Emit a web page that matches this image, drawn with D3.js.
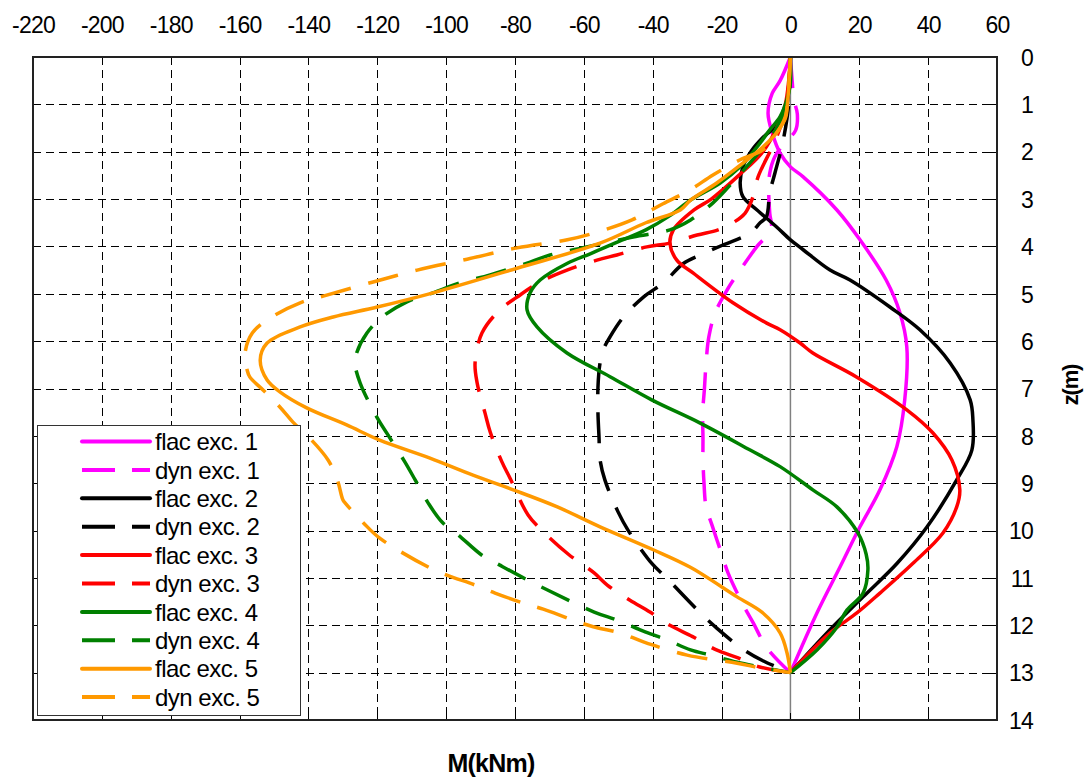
<!DOCTYPE html>
<html>
<head>
<meta charset="utf-8">
<script src="https://cdn.jsdelivr.net/npm/d3@7"></script>
<style>
  html, body { margin: 0; padding: 0; background: #fff; }
  svg { display: block; font-family: "Liberation Sans", Arial, sans-serif; }
</style>
</head>
<body>
<svg id="chart" width="1090" height="780"></svg>
<script>
// Axis ticks
const momentTicks = [-220, -200, -180, -160, -140, -120, -100, -80, -60, -40, -20, 0, 20, 40, 60];
const depthTicks = [0, 1, 2, 3, 4, 5, 6, 7, 8, 9, 10, 11, 12, 13, 14];

// Series names (legend order)
const seriesNames = ["flac exc. 1", "dyn exc. 1", "flac exc. 2", "dyn exc. 2", "flac exc. 3",
                     "dyn exc. 3", "flac exc. 4", "dyn exc. 4", "flac exc. 5", "dyn exc. 5"];

// Bending moment profiles: depth z (m) and moment M (kNm)
const flac1Z = [0, 0.5, 0.77, 1.19, 1.6, 2.03, 2.32, 2.53, 3.23, 3.86, 4.71, 5.4, 6.12, 7.24, 8.23, 9.14, 9.92, 10.77, 11.74, 13];
const flac1M = [0, -3, -5.3, -6.5, -5.3, -3, 0, 3.7, 13.5, 20.2, 27.8, 31.8, 33.8, 33.2, 30.9, 26, 20.2, 14.4, 7.7, 0];

const dyn1Z = [0, 0.5, 0.9, 1.2, 1.55, 1.8, 2.1, 2.45, 2.87, 3.3, 3.65, 4.0, 4.5, 4.92, 5.41, 5.91, 6.46, 7.03, 7.52, 8.02, 8.5, 9.0, 9.5, 9.88, 10.51, 10.9, 11.53, 11.95, 12.48, 13];
const dyn1M = [0, 0.5, 1, 2, 1.5, -1.5, -4.5, -6, -6.3, -6, -5.6, -9.7, -14.6, -18.4, -21.9, -23.7, -24.5, -25, -25.5, -25.4, -25.4, -25.1, -24.5, -22.8, -19.9, -18.1, -14, -10.8, -6.8, 0];

const flac2Z = [0, 0.6, 1.2, 1.45, 1.7, 2.0, 2.32, 2.66, 2.95, 3.23, 3.59, 3.86, 4.07, 4.5, 4.71, 5.28, 5.76, 6.46, 7.24, 7.66, 8.3, 8.93, 9.92, 10.69, 11.4, 12.16, 13];
const flac2M = [0, -0.5, -1.5, -4, -8, -11.5, -13.8, -14.6, -13.8, -9.7, -4, 0, 3.7, 11.5, 17.3, 28.9, 37.6, 46.4, 52.2, 53, 52.7, 48.3, 39.7, 31, 21.1, 10.6, 0];

const dyn2Z = [0, 0.8, 1.3, 1.86, 2.45, 2.87, 3.38, 3.5, 3.72, 3.97, 4.18, 4.36, 4.77, 5.07, 5.49, 5.91, 6.19, 6.46, 6.97, 7.52, 8.02, 8.5, 8.93, 9.6, 10.0, 10.7, 10.97, 11.78, 12.06, 12.5, 12.75, 13];
const dyn2M = [0, -0.3, -1, -2.4, -4.5, -6, -7, -8.8, -11.7, -19.6, -26.2, -31.1, -36.9, -42.7, -48.5, -52.4, -54.4, -55.3, -55.9, -55.9, -55.6, -55.3, -53.9, -50.1, -47.1, -40.2, -36.4, -25.6, -21.4, -13.9, -8, 0];

const flac3Z = [0, 0.5, 1.0, 1.5, 2.0, 2.5, 3.0, 3.23, 3.65, 3.93, 4.29, 4.56, 5.19, 5.62, 5.76, 6.04, 6.25, 6.76, 7.45, 7.94, 8.51, 9.14, 9.5, 10.05, 10.69, 11.32, 11.74, 12.16, 13];
const flac3M = [0, -0.5, -1.5, -4, -8, -15, -23, -28, -34, -35, -33, -28.3, -16.7, -6.9, -3, 2.8, 6.5, 19.3, 33.8, 41.4, 46.9, 49.2, 48.3, 44.3, 35.6, 26, 19.3, 11.5, 0];

const dyn3Z = [0, 1.0, 1.5, 1.9, 2.53, 2.96, 3.3, 3.5, 3.65, 3.76, 3.93, 4.01, 4.18, 4.29, 4.5, 4.75, 5.07, 5.34, 5.83, 6.46, 6.88, 7.52, 7.92, 8.55, 8.9, 9.67, 10.03, 10.5, 10.89, 11.15, 11.47, 11.72, 12.0, 12.24, 12.52, 12.69, 12.88, 13];
const dyn3M = [0, -1, -3, -5.3, -9.4, -10.9, -13.2, -16.7, -21, -27.1, -35, -41.7, -50.4, -56.2, -64.9, -72.7, -79.4, -84.4, -89.6, -91.6, -91, -88.7, -87.2, -83.8, -81.4, -76.2, -71.7, -64.5, -57.1, -53.2, -46.6, -40.8, -35, -28.4, -21.5, -15.2, -8.9, 0];

const flac4Z = [0, 0.55, 0.9, 1.26, 1.54, 1.9, 2.32, 2.66, 3.02, 3.35, 3.65, 3.93, 4.15, 4.36, 4.71, 4.98, 5.34, 5.7, 6.25, 6.75, 7.24, 7.73, 8.3, 8.65, 9.14, 9.5, 10.05, 10.5, 10.83, 11.32, 11.68, 12.04, 12.52, 13];
const flac4M = [0, 0, -1, -3, -6, -9.7, -14.6, -20.4, -29, -35, -42, -51, -58, -64.9, -72.7, -75.6, -76.5, -73.6, -64.9, -52.4, -40.3, -26.2, -11.7, -3, 6.5, 13.5, 19.6, 22, 22.5, 21.1, 16.4, 13.5, 7.7, 0];

const dyn4Z = [0, 1.0, 1.5, 2.0, 2.5, 3.08, 3.44, 3.65, 3.8, 4.03, 4.18, 4.33, 4.6, 4.77, 4.98, 5.17, 5.49, 5.83, 6.25, 6.46, 6.88, 7.62, 7.98, 8.55, 8.93, 9.42, 9.82, 10.09, 10.52, 10.73, 11.04, 11.25, 11.72, 11.89, 12.14, 12.31, 12.52, 12.63, 12.78, 12.88, 13];
const dyn4M = [0, -1, -4, -9, -15, -22.5, -29, -35, -45.7, -60.5, -69.8, -75.6, -87.2, -96, -103.8, -111.4, -118.6, -123, -126, -126.5, -125, -120, -116.9, -112, -109, -105.2, -101.2, -96.5, -89.6, -84.4, -76.5, -70.7, -57, -50.4, -42.2, -35.8, -29, -23.2, -15.5, -8.8, 0];

const flac5Z = [0, 0.84, 1.26, 1.6, 1.9, 2.24, 2.66, 3.02, 3.23, 3.5, 3.93, 4.46, 4.98, 5.28, 5.49, 5.7, 6.04, 6.4, 6.82, 7.07, 7.41, 7.77, 8.09, 8.47, 8.83, 9.14, 9.5, 9.92, 10.4, 10.77, 11.4, 11.74, 12.16, 12.58, 13];
const flac5M = [0, -0.7, -1.5, -4, -8, -13.8, -21.4, -29, -32, -42, -55.3, -79.4, -103.8, -120, -132.8, -142.4, -152, -154, -152, -148.3, -140.5, -128.9, -119.3, -104.7, -92.2, -80.5, -67.7, -55.3, -40, -29.2, -15.5, -8, -3, -1, 0];

const dyn5Z = [0, 1.1, 1.3, 1.7, 1.96, 2.17, 2.49, 2.8, 3.1, 3.44, 3.69, 3.86, 4.03, 4.27, 4.5, 4.75, 5.05, 5.19, 5.51, 5.83, 6.25, 6.61, 6.76, 7.03, 7.39, 7.71, 8.02, 8.51, 8.93, 9.35, 9.42, 9.84, 10.16, 10.77, 10.94, 11.15, 11.32, 11.53, 11.66, 11.89, 12.03, 12.16, 12.35, 12.63, 12.8, 12.9, 13];
const dyn5M = [0, -1, -1.5, -5, -8, -14.6, -22.5, -29, -37, -46, -55.8, -64.8, -79.4, -93.9, -108.4, -121.2, -135.7, -142.4, -151.1, -156.3, -158.4, -157.8, -157, -153.2, -148.3, -144.5, -140, -134.3, -131.6, -130, -129.3, -124, -119.3, -105.2, -99.8, -91.6, -85.8, -77.6, -71.8, -63.2, -57.3, -49.5, -42.7, -30, -15.5, -8.8, 0];

const seriesColors = ["#ff00ff", "#ff00ff", "#000000", "#000000", "#ff0000",
                      "#ff0000", "#008000", "#008000", "#ff9900", "#ff9900"];
const seriesDashed = [false, true, false, true, false, true, false, true, false, true];

const depthSets = [flac1Z, dyn1Z, flac2Z, dyn2Z, flac3Z, dyn3Z, flac4Z, dyn4Z, flac5Z, dyn5Z];
const momentSets = [flac1M, dyn1M, flac2M, dyn2M, flac3M, dyn3M, flac4M, dyn4M, flac5M, dyn5M];

const series = seriesNames.map((name, i) => ({
  name,
  color: seriesColors[i],
  dashed: seriesDashed[i],
  points: depthSets[i].map((z, k) => ({ z, m: momentSets[i][k] }))
}));

// Layout
const plot = { left: 33, right: 997, top: 57, bottom: 720 };
const svg = d3.select("#chart");
const FONT = "Liberation Sans, Arial, sans-serif";

const x = d3.scaleLinear().domain([-220, 60]).range([plot.left, plot.right]);
const y = d3.scaleLinear().domain([0, 14]).range([plot.top, plot.bottom]);

const DASH = "31,18";

// Dashed grid
const grid = svg.append("g").attr("stroke", "#000").attr("stroke-width", 1)
  .attr("stroke-dasharray", "8,5").attr("shape-rendering", "crispEdges");
grid.selectAll("line.v").data(momentTicks.filter(v => v > -220 && v < 60 && v !== 0))
  .join("line").attr("class", "v")
  .attr("x1", d => Math.round(x(d)) + 0.5).attr("x2", d => Math.round(x(d)) + 0.5)
  .attr("y1", plot.top).attr("y2", plot.bottom);
grid.selectAll("line.h").data(depthTicks.filter(v => v > 0 && v < 14))
  .join("line").attr("class", "h")
  .attr("y1", d => Math.round(y(d)) + 0.5).attr("y2", d => Math.round(y(d)) + 0.5)
  .attr("x1", plot.left).attr("x2", plot.right);

// Zero moment line
svg.append("line")
  .attr("x1", x(0)).attr("x2", x(0)).attr("y1", plot.top).attr("y2", plot.bottom)
  .attr("stroke", "#808080").attr("stroke-width", 1.5);

// Axes: labels along the top and right, inward ticks on all sides
const plainNumber = d => String(d);
const topAxis = d3.axisTop(x).tickValues(momentTicks).tickSize(0).tickPadding(0)
  .tickFormat(plainNumber);
const gTop = svg.append("g").attr("transform", `translate(0,${plot.top})`).call(topAxis);
gTop.select(".domain").remove();
gTop.selectAll("text").attr("y", -24).attr("dy", 0)
  .attr("font-size", 23).attr("fill", "#000")
  .attr("font-family", FONT).attr("letter-spacing", -0.8);

const rightAxis = d3.axisRight(y).tickValues(depthTicks).tickSize(0).tickPadding(0)
  .tickFormat(plainNumber);
const gRight = svg.append("g").attr("transform", `translate(${plot.right},0)`).call(rightAxis);
gRight.select(".domain").remove();
gRight.selectAll("text").attr("x", 36).attr("dy", "0.36em").attr("text-anchor", "end")
  .attr("font-size", 23).attr("fill", "#000")
  .attr("font-family", FONT).attr("letter-spacing", -0.8);

const ticks = svg.append("g").attr("stroke", "#000").attr("stroke-width", 1);
ticks.selectAll("line.bt").data(momentTicks.slice(1, -1)).join("line").attr("class", "bt")
  .attr("x1", d => Math.round(x(d)) + 0.5).attr("x2", d => Math.round(x(d)) + 0.5)
  .attr("y1", plot.bottom).attr("y2", plot.bottom - 7);
ticks.selectAll("line.rt").data(depthTicks.slice(1, -1)).join("line").attr("class", "rt")
  .attr("y1", d => Math.round(y(d)) + 0.5).attr("y2", d => Math.round(y(d)) + 0.5)
  .attr("x1", plot.right).attr("x2", plot.right - 7);
ticks.selectAll("line.lt").data(depthTicks.slice(1, -1)).join("line").attr("class", "lt")
  .attr("y1", d => Math.round(y(d)) + 0.5).attr("y2", d => Math.round(y(d)) + 0.5)
  .attr("x1", plot.left).attr("x2", plot.left + 5);

// Curves
const line = d3.line()
  .x(d => x(d.m))
  .y(d => y(d.z))
  .curve(d3.curveCatmullRom.alpha(0.5));

const curves = svg.append("g").attr("fill", "none");
curves.selectAll("path").data(series).join("path")
  .attr("d", d => line(d.points))
  .attr("stroke", d => d.color)
  .attr("stroke-width", 3.5)
  .attr("stroke-linejoin", "round")
  .attr("stroke-dasharray", d => d.dashed ? DASH : null);

// Plot frame
svg.append("rect")
  .attr("x", plot.left).attr("y", plot.top)
  .attr("width", plot.right - plot.left).attr("height", plot.bottom - plot.top)
  .attr("fill", "none").attr("stroke", "#222").attr("stroke-width", 2);

// Legend
const legend = { left: 37, top: 425, right: 300, bottom: 715, firstY: 441.5, step: 28.4 };
const gLeg = svg.append("g");
gLeg.append("rect")
  .attr("x", legend.left + 0.5).attr("y", legend.top + 0.5)
  .attr("width", legend.right - legend.left).attr("height", legend.bottom - legend.top)
  .attr("fill", "#fff").attr("stroke", "#333").attr("stroke-width", 1);
const items = gLeg.selectAll("g.item").data(series).join("g").attr("class", "item")
  .attr("transform", (d, i) => `translate(0,${legend.firstY + i * legend.step})`);
items.append("line")
  .attr("x1", 82).attr("x2", 150).attr("y1", 0).attr("y2", 0)
  .attr("stroke", d => d.color).attr("stroke-width", 4)
  .attr("stroke-linecap", d => d.dashed ? "butt" : "round")
  .attr("stroke-dasharray", d => d.dashed ? "33,17" : null);
items.append("text")
  .attr("x", 155).attr("y", 0).attr("dy", "0.36em")
  .attr("font-size", 24).attr("letter-spacing", -0.5).attr("fill", "#000")
  .attr("font-family", FONT)
  .text(d => d.name);

// Axis titles
svg.append("text")
  .attr("x", 491).attr("y", 772).attr("text-anchor", "middle")
  .attr("font-size", 25).attr("font-weight", "bold").attr("letter-spacing", -0.8)
  .attr("font-family", FONT)
  .text("M(kNm)");
svg.append("text")
  .attr("transform", "translate(1078,385) rotate(-90)").attr("text-anchor", "middle")
  .attr("font-size", 22).attr("font-weight", "bold").attr("letter-spacing", -1.2)
  .attr("font-family", FONT)
  .text("z(m)");
</script>
</body>
</html>
